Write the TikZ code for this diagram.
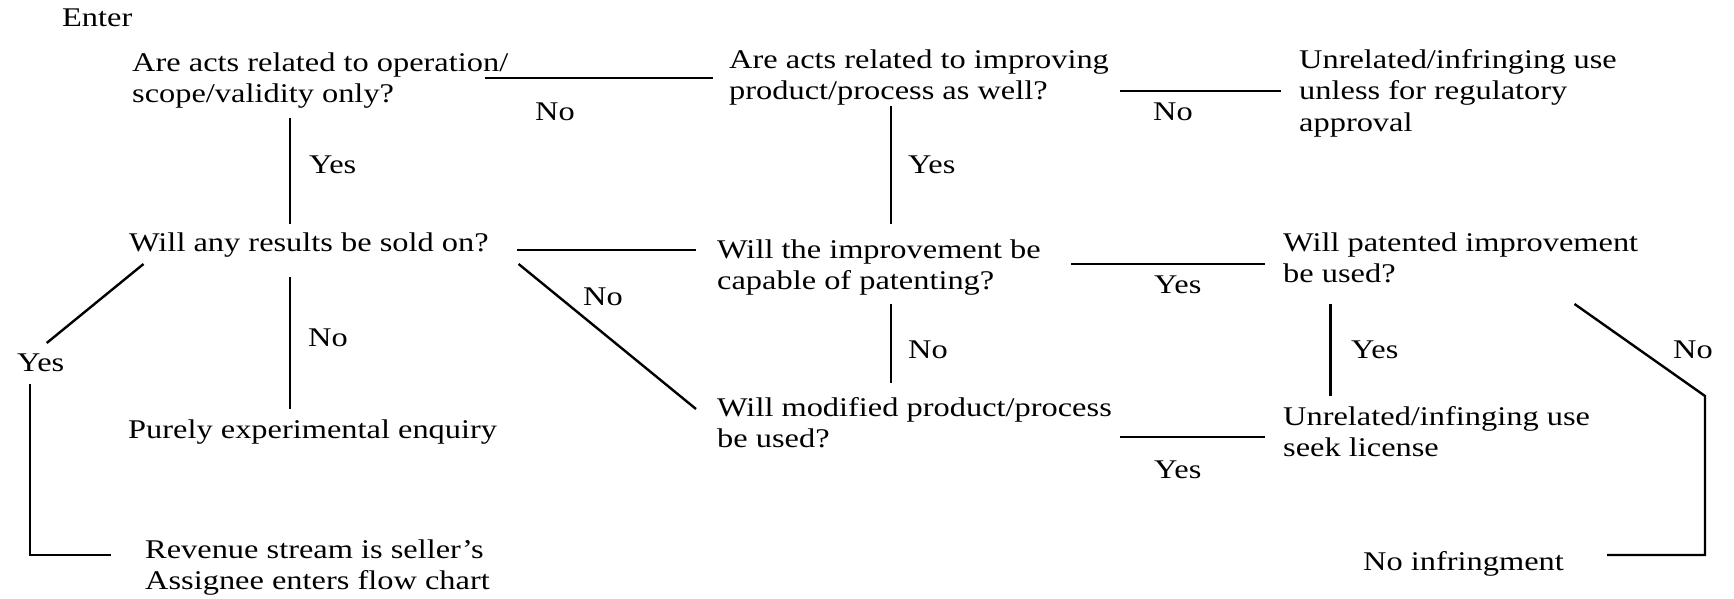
\documentclass[tikz,border=0pt]{standalone}
\usepackage{fontspec}
\setmainfont{Liberation Serif}[FakeStretch=1.2]
\begin{document}
\begin{tikzpicture}[x=1pt,y=-1pt,
  txt/.style={anchor=base west, align=left, inner sep=0pt, font=\fontsize{27}{31.5}\selectfont},
  lbl/.style={anchor=base west, inner sep=0pt, font=\fontsize{27}{31.5}\selectfont},
  conn/.style={line width=2.4pt, line join=miter}]
\useasboundingbox (0,0) rectangle (1734,598);
% texts (anchor = baseline of the last line)
\node[txt] (enter) at (62,26) {Enter};
\node[txt] (q1) at (132,102.5) {Are acts related to operation/\\scope/validity only?};
\node[txt] (q2) at (729,99.5) {Are acts related to improving\\product/process as well?};
\node[txt] (u1) at (1299,131) {Unrelated/infringing use\\unless for regulatory\\approval};
\node[txt] (q3) at (129,251) {Will any results be sold on?};
\node[txt] (q4) at (717,289.5) {Will the improvement be\\capable of patenting?};
\node[txt] (q5) at (1283,282.5) {Will patented improvement\\be used?};
\node[txt] (pe) at (128,438) {Purely experimental enquiry};
\node[txt] (q6) at (717,447.5) {Will modified product/process\\be used?};
\node[txt] (u2) at (1283,456.5) {Unrelated/infinging use\\seek license};
\node[txt] (rev) at (145,589.5) {Revenue stream is seller’s\\Assignee enters flow chart};
\node[txt] (ni) at (1363,570) {No infringment};
% labels
\node[lbl] (l1) at (535,120) {No};
\node[lbl] (l2) at (1153,120) {No};
\node[lbl] (l3) at (309,173) {Yes};
\node[lbl] (l4) at (908,173) {Yes};
\node[lbl] (l5) at (1154,293) {Yes};
\node[lbl] (l6) at (583,305) {No};
\node[lbl] (l7) at (17,371) {Yes};
\node[lbl] (l8) at (308,346) {No};
\node[lbl] (l9) at (908,358) {No};
\node[lbl] (l10) at (1154,478) {Yes};
\node[lbl] (l11) at (1351,358) {Yes};
\node[lbl] (l12) at (1673,358) {No};
% connector end points
\coordinate (q1e) at (485,78);   \coordinate (q2w) at (713,78);
\coordinate (q2e) at (1120,91);  \coordinate (u1w) at (1281,91);
\coordinate (q1s) at (290,118);  \coordinate (q3n) at (290,224);
\coordinate (q2s) at (891,106);  \coordinate (q4n) at (891,224);
\coordinate (q3e) at (517,250);  \coordinate (q4w) at (696,250);
\coordinate (q4e) at (1071,264); \coordinate (q5w) at (1265,264);
\coordinate (q3sw) at (143.5,264); \coordinate (yesend) at (46.7,343);
\coordinate (q3s) at (290,277);  \coordinate (pen) at (290,409);
\coordinate (q3se) at (518.6,264); \coordinate (q6w) at (696,409);
\coordinate (q4s) at (891,304);  \coordinate (q6n) at (891,383);
\coordinate (q6e) at (1120,437); \coordinate (u2w) at (1265,437);
\coordinate (q5s) at (1330.6,304); \coordinate (u2n) at (1330.6,396);
\coordinate (q5se) at (1574.5,304); \coordinate (rk) at (1705,396);
\coordinate (rb) at (1705,555);  \coordinate (nie) at (1607,555);
\coordinate (yt) at (30,384);    \coordinate (yb) at (30,555);
\coordinate (revw) at (111,555);
% connectors
\draw[conn] (q1e) -- (q2w);
\draw[conn] (q2e) -- (u1w);
\draw[conn] (q1s) -- (q3n);
\draw[conn] (q2s) -- (q4n);
\draw[conn] (q3e) -- (q4w);
\draw[conn] (q4e) -- (q5w);
\draw[conn] (q3sw) -- (yesend);
\draw[conn] (q3s) -- (pen);
\draw[conn] (q3se) -- (q6w);
\draw[conn] (q4s) -- (q6n);
\draw[conn] (q6e) -- (u2w);
\draw[conn] (q5s) -- (u2n);
\draw[conn] (q5se) -- (rk) -- (rb) -- (nie);
\draw[conn] (yt) -- (yb) -- (revw);
\end{tikzpicture}
\end{document}
